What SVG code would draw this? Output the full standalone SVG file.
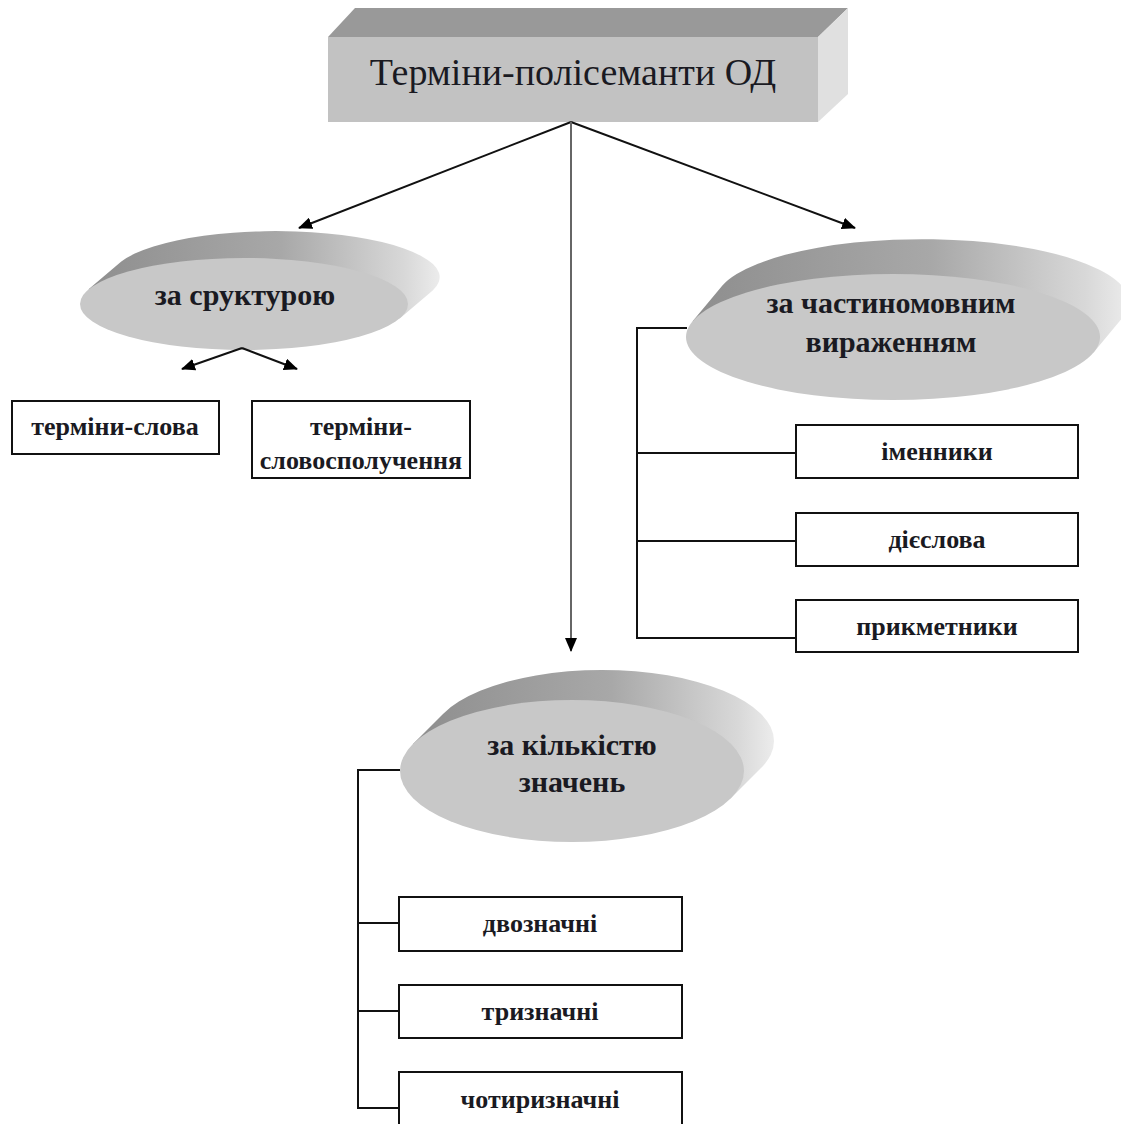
<svg xmlns="http://www.w3.org/2000/svg" width="1121" height="1124" viewBox="0 0 1121 1124">
<defs>
<style>
.t{font-family:"Liberation Serif","Times New Roman",serif;fill:#1a1a22;text-anchor:middle}
.title{font-size:38px}
.el{font-size:30px;font-weight:bold}
.bx{font-size:26px;font-weight:bold}
.box{fill:#fff;stroke:#111;stroke-width:2}
.front{fill:#c8c8c8}
.ln{stroke:#111;stroke-width:2;fill:none}
</style>
<linearGradient id="ext" x1="0" y1="0" x2="1" y2="0">
<stop offset="0" stop-color="#8e8e8e"/>
<stop offset="0.55" stop-color="#a8a8a8"/>
<stop offset="0.9" stop-color="#d8d8d8"/>
<stop offset="1" stop-color="#ececec"/>
</linearGradient>
<marker id="ah" markerWidth="14" markerHeight="12" refX="13" refY="6" orient="auto" markerUnits="userSpaceOnUse">
<path d="M0,0 L14,6 L0,12 Z" fill="#000"/>
</marker>
</defs>

<g id="title-node">
<polygon points="328,37 355,8 848,8 818,37" fill="#999"/>
<polygon points="818,37 848,8 848,94 818,122" fill="#e0e0e0"/>
<rect x="328" y="37" width="490" height="85" fill="#c2c2c2"/>
<text class="t title" x="573" y="85">Терміни-полісеманти ОД</text>
</g>

<g id="node-structure">
<path d="M88.3,289.6 L121.3,261.6 A164,46 0 0 1 432.7,290.4 L399.7,318.4 Z" fill="url(#ext)"/>
<ellipse cx="244" cy="304" rx="164" ry="46" class="front"/>
<text class="t el" x="245" y="305">за сруктурою</text>
</g>

<g id="node-pos">
<path d="M692.4,321.5 L722.4,285.5 A207,63 0 0 1 1123.6,316.5 L1093.6,352.5 Z" fill="url(#ext)"/>
<ellipse cx="893" cy="337" rx="207" ry="63" class="front"/>
<text class="t el" x="891" y="313">за частиномовним</text>
<text class="t el" x="891" y="352">вираженням</text>
</g>

<g id="node-count">
<path d="M413,743.9 L443,713.9 A172,71 0 0 1 761,768.1 L731,798.1 Z" fill="url(#ext)"/>
<ellipse cx="572" cy="771" rx="172" ry="71" class="front"/>
<text class="t el" x="572" y="755">за кількістю</text>
<text class="t el" x="572" y="792">значень</text>
</g>

<g id="box-words">
<rect x="12" y="401" width="207" height="53" class="box"/>
<text class="t bx" x="115" y="435">терміни-слова</text>
</g>
<g id="box-phrases">
<rect x="252" y="401" width="218" height="77" class="box"/>
<text class="t bx" x="361" y="435">терміни-</text>
<text class="t bx" x="361" y="469">словосполучення</text>
</g>
<g id="box-nouns">
<rect x="796" y="425" width="282" height="53" class="box"/>
<text class="t bx" x="937" y="460">іменники</text>
</g>
<g id="box-verbs">
<rect x="796" y="513" width="282" height="53" class="box"/>
<text class="t bx" x="937" y="548">дієслова</text>
</g>
<g id="box-adj">
<rect x="796" y="600" width="282" height="52" class="box"/>
<text class="t bx" x="937" y="635">прикметники</text>
</g>
<g id="box-two">
<rect x="399" y="897" width="283" height="54" class="box"/>
<text class="t bx" x="540" y="932">двозначні</text>
</g>
<g id="box-three">
<rect x="399" y="985" width="283" height="53" class="box"/>
<text class="t bx" x="540" y="1020">тризначні</text>
</g>
<g id="box-four">
<rect x="399" y="1072" width="283" height="60" class="box"/>
<text class="t bx" x="540" y="1108">чотиризначні</text>
</g>

<g id="connectors">
<line x1="571" y1="122" x2="299" y2="228" class="ln" marker-end="url(#ah)"/>
<line x1="571" y1="122" x2="855" y2="228" class="ln" marker-end="url(#ah)"/>
<line x1="571" y1="122" x2="571" y2="651" stroke="#666" stroke-width="2" marker-end="url(#ah)"/>
<line x1="242" y1="348" x2="182" y2="369" class="ln" marker-end="url(#ah)"/>
<line x1="242" y1="348" x2="297" y2="369" class="ln" marker-end="url(#ah)"/>
<path d="M687,328 H637 V638 H796 M637,453 H796 M637,541 H796" class="ln"/>
<path d="M400,770 H358 V1108 H399 M358,923 H399 M358,1011 H399" class="ln"/>
</g>
</svg>
